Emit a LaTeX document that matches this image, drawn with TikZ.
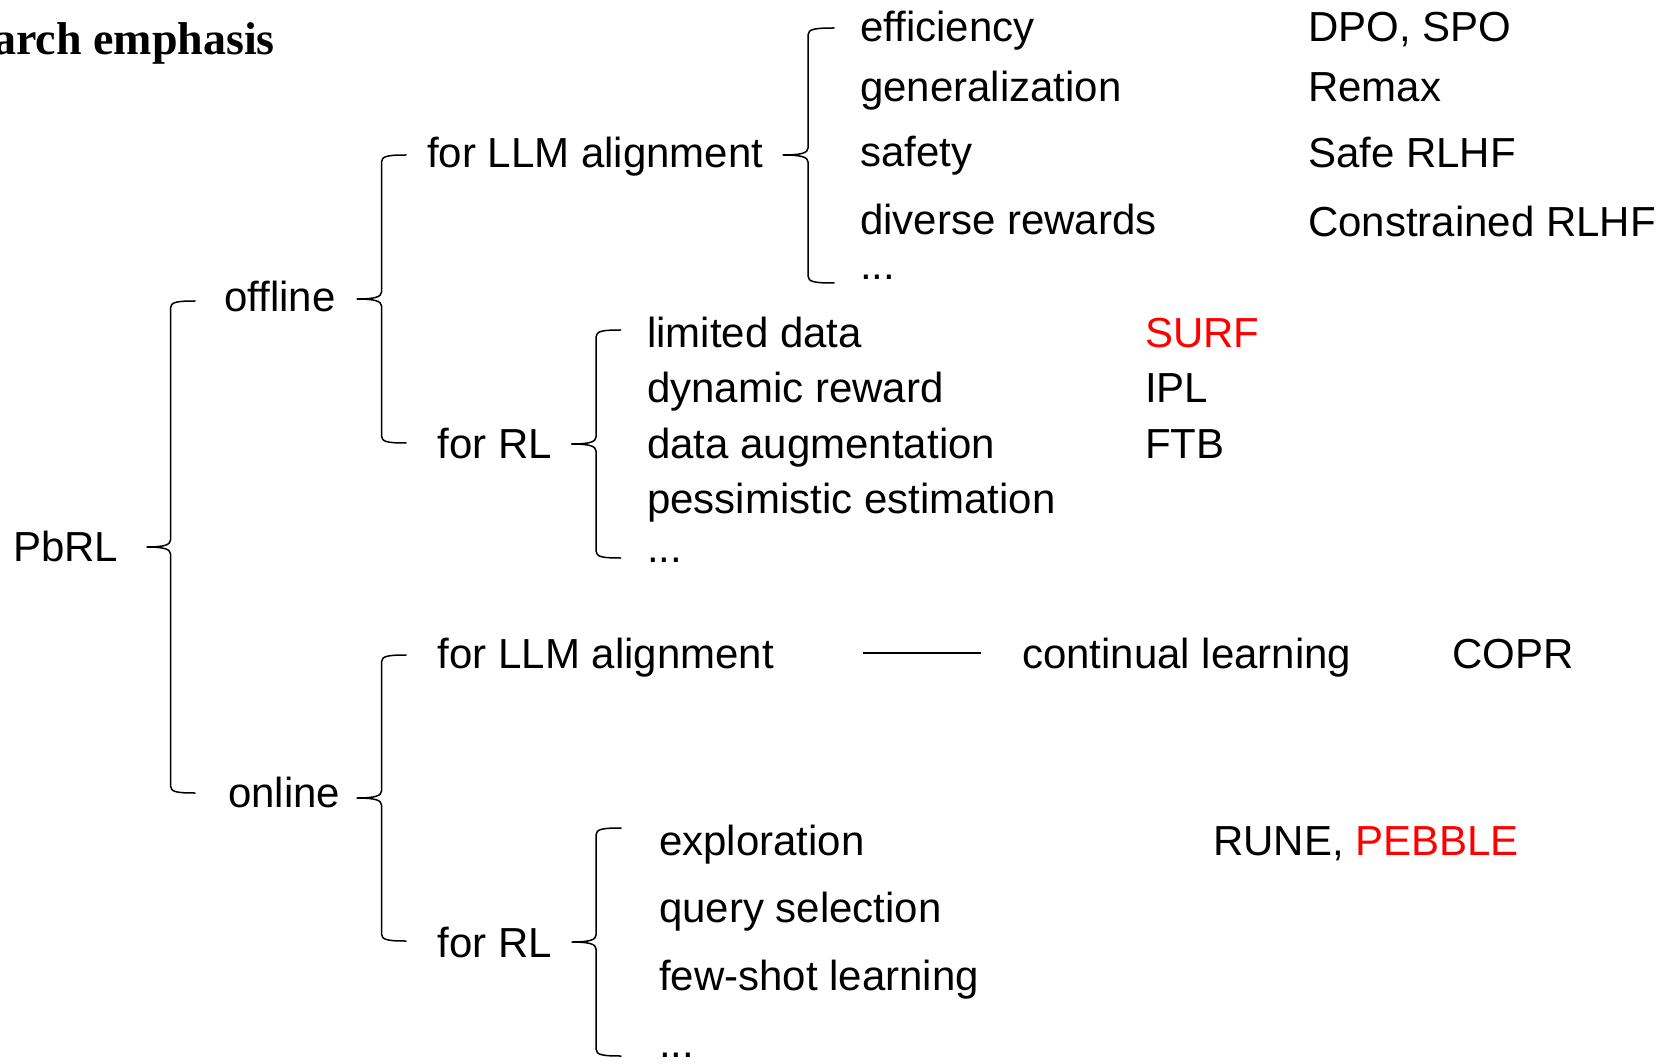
\documentclass[tikz,border=0pt]{standalone}
\usepackage{fontspec}
\setmainfont{Liberation Sans}
\newfontfamily\titlefont{Liberation Serif}
\newcommand{\mybrace}[6]{% #1 tip x, #2 tip y, #3 vertical x, #4 top y, #5 bottom y, #6 end x
  \draw[bracestyle] (#6,#4) .. controls (#3+7,#4) and (#3,#4+1) .. (#3,#4+7)
    -- (#3,#2-7) .. controls (#3,#2-2) and (#3-7,#2) .. (#1,#2)
    .. controls (#3-7,#2) and (#3,#2+2) .. (#3,#2+7)
    -- (#3,#5-7) .. controls (#3,#5-1) and (#3+7,#5) .. (#6,#5);}
\begin{document}
\begin{tikzpicture}[x=1pt,y=-1pt,
  lbl/.style={anchor=base west, inner sep=0pt, font=\fontsize{42}{50}\selectfont},
  redlbl/.style={lbl, text=red},
  bracestyle/.style={line width=1.5pt, black, line join=round, line cap=round}]
\useasboundingbox (0,0) rectangle (1663,1064);
\clip (0,0) rectangle (1663,1064);
% title (cut at the left edge)
\node[anchor=base east, inner sep=0pt, font=\titlefont\bfseries\fontsize{46}{54}\selectfont] (title) at (275,55) {arch emphasis};
% level 0-2
\node[lbl] (pbrl) at (13,561) {PbRL};
\node[lbl] (offline) at (224,312) {offline};
\node[lbl] (online) at (228,807) {online};
\node[lbl] (offllm) at (427,168) {for LLM alignment};
\node[lbl] (offrl) at (437.5,458) {for RL};
\node[lbl] (onllm) at (437.5,668) {for LLM alignment};
\node[lbl] (onrl) at (437.5,957) {for RL};
% offline LLM alignment
\node[lbl] (eff) at (860,42) {efficiency};
\node[lbl] (gen) at (860,102) {generalization};
\node[lbl] (saf) at (860,167) {safety};
\node[lbl] (div) at (860,235) {diverse rewards};
\node[lbl] (dots1) at (860,280) {...};
\node[lbl] (dpo) at (1308,42) {DPO, SPO};
\node[lbl] (remax) at (1308,102) {Remax};
\node[lbl] (saferlhf) at (1308,168) {Safe RLHF};
\node[lbl] (conrlhf) at (1308,237) {Constrained RLHF};
% offline RL
\node[lbl] (lim) at (647,348) {limited data};
\node[lbl] (dyn) at (647,403) {dynamic reward};
\node[lbl] (aug) at (647,458) {data augmentation};
\node[lbl] (pes) at (647,513) {pessimistic estimation};
\node[lbl] (dots2) at (647,562) {...};
\node[redlbl] (surf) at (1145,348) {SURF};
\node[lbl] (ipl) at (1145,403) {IPL};
\node[lbl] (ftb) at (1145,458) {FTB};
% online LLM alignment
\node[lbl] (cl) at (1022,668) {continual learning};
\node[lbl] (copr) at (1452,668) {COPR};
\draw[line width=1.5pt, shorten <=89pt, shorten >=41pt] ([yshift=15pt]onllm.base east) -- ([yshift=15pt]cl.base west);
% online RL
\node[lbl] (exp) at (659,855) {exploration};
\node[lbl] (qs) at (659,922) {query selection};
\node[lbl] (fs) at (659,990) {few-shot learning};
\node[lbl] (dots3) at (659,1057) {...};
\node[lbl] (rune) at (1213,855) {RUNE, \textcolor{red}{PEBBLE}};
% braces
\mybrace{147}{547}{170.5}{301}{793}{195}
\mybrace{357}{299}{381.5}{155}{443}{406}
\mybrace{357}{798}{381.5}{655}{941}{406}
\mybrace{783}{155}{808}{28}{283}{834}
\mybrace{571.5}{444}{596}{330}{558}{620.5}
\mybrace{572}{942}{596}{828}{1056}{621}
\end{tikzpicture}
\end{document}
